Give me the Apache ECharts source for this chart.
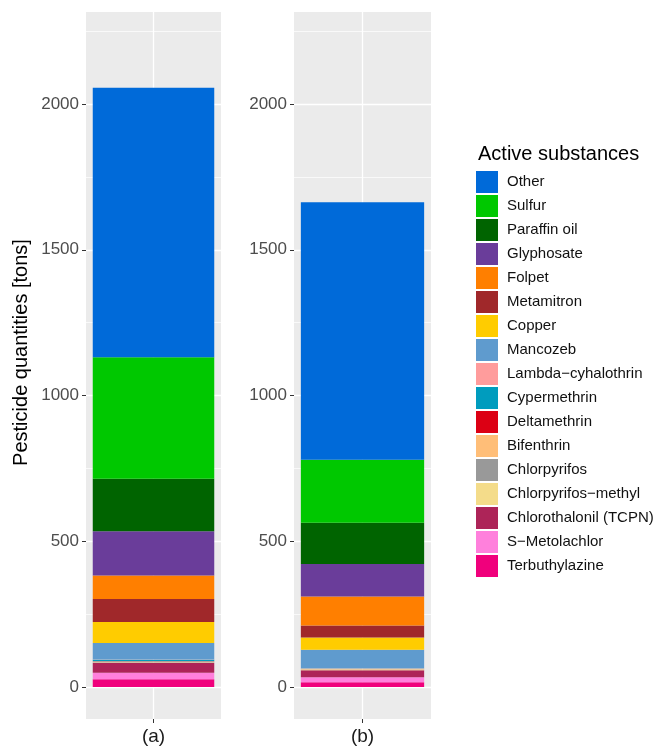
<!DOCTYPE html>
<html>
<head>
<meta charset="utf-8">
<script src="https://cdn.jsdelivr.net/npm/echarts@6/dist/echarts.min.js"></script>
<style>
  html, body { margin: 0; padding: 0; background: #ffffff; }
  #chart { width: 659px; height: 748px; }
</style>
</head>
<body>
<div id="chart"></div>
<script>
// Panels (facets) and the active substances, listed top of stack first
const panels = ['(a)', '(b)'];
const substances = [
  'Other', 'Sulfur', 'Paraffin oil', 'Glyphosate', 'Folpet', 'Metamitron',
  'Copper', 'Mancozeb', 'Lambda\u2212cyhalothrin', 'Cypermethrin', 'Deltamethrin',
  'Bifenthrin', 'Chlorpyrifos', 'Chlorpyrifos\u2212methyl', 'Chlorothalonil (TCPN)',
  'S\u2212Metolachlor', 'Terbuthylazine'
];
// Quantities in tons, same order as substances
const valuesA = [925, 417, 180, 152, 80, 79, 72, 57, 1, 5, 0.5, 2, 0.5, 2, 34, 23, 26];
const valuesB = [883, 217, 141, 112, 99, 41, 42, 64, 0.5, 1, 0.5, 2.5, 0.5, 2, 24, 17, 16];
const colors = [
  '#006AD9', '#00C800', '#006400', '#6A3D9A', '#FF7F00', '#A0282A',
  '#FFCC00', '#5F9BCE', '#FF9C9C', '#009CBE', '#DC0014',
  '#FFBE78', '#999999', '#F4DC8A', '#AD2458', '#FF80DC', '#F0007C'
];
const majorTicks = [0, 500, 1000, 1500, 2000];
const minorTicks = [250, 750, 1250, 1750, 2250];

const FONT = '"Liberation Sans", Arial, sans-serif';
const Y_MIN = -110;
const Y_MAX = 2316;
const panelValues = [valuesA, valuesB];
const gridBoxes = [
  { left: 86, width: 135, top: 12, bottom: 29 },
  { left: 294, width: 137, top: 12, bottom: 29 }
];

const chart = echarts.init(document.getElementById('chart'), null, { renderer: 'canvas' });

const grid = [], xAxis = [], yAxis = [], series = [];

panels.forEach((panel, p) => {
  grid.push(Object.assign({ show: true, backgroundColor: '#EBEBEB', borderWidth: 0, containLabel: false }, gridBoxes[p]));

  // category axis carrying the bar and its label
  xAxis.push({
    type: 'category', gridIndex: p, data: [panel], position: 'bottom',
    axisLine: { show: false, onZero: false },
    axisTick: { show: true, alignWithLabel: true, length: 4, lineStyle: { color: '#333333', width: 1 } },
    axisLabel: { color: '#1A1A1A', fontSize: 19, fontFamily: FONT, margin: 8 },
    splitLine: { show: false }
  });
  // helper value axis giving the vertical white grid line through the bar centre
  xAxis.push({
    type: 'value', gridIndex: p, min: -1, max: 1, position: 'top',
    axisLine: { show: false, onZero: false }, axisLabel: { show: false },
    axisTick: { show: false, customValues: [0] },
    splitLine: { show: true, lineStyle: { color: '#FFFFFF', width: 1.3 } }
  });

  // main value axis: major grid, ticks and labels
  yAxis.push({
    type: 'value', gridIndex: p, min: Y_MIN, max: Y_MAX, position: 'left',
    name: p === 0 ? 'Pesticide quantities [tons]' : '',
    nameLocation: 'middle', nameGap: 55,
    nameTextStyle: { color: '#000000', fontSize: 20, fontFamily: FONT, padding: [0, 0, 0, 26] },
    axisLine: { show: false, onZero: false },
    axisTick: { show: true, length: 4, customValues: majorTicks, lineStyle: { color: '#333333', width: 1 } },
    axisLabel: {
      customValues: majorTicks, color: '#4D4D4D', fontSize: 17, fontFamily: FONT, margin: 7,
      formatter: v => String(v)
    },
    splitLine: { show: true, lineStyle: { color: '#FFFFFF', width: 1.3 } }
  });
  // minor grid lines
  yAxis.push({
    type: 'value', gridIndex: p, min: Y_MIN, max: Y_MAX, position: 'right',
    axisLine: { show: false, onZero: false }, axisLabel: { show: false },
    axisTick: { show: false, customValues: minorTicks },
    splitLine: { show: true, lineStyle: { color: '#FFFFFF', width: 0.7 } }
  });

  // stack from the bottom (last substance) up to "Other"
  const vals = panelValues[p];
  for (let k = substances.length - 1; k >= 0; k--) {
    series.push({
      type: 'bar', name: substances[k],
      xAxisIndex: 2 * p, yAxisIndex: 2 * p,
      stack: 'panel' + p, barWidth: '90%',
      itemStyle: { color: colors[k] },
      emphasis: { disabled: true },
      data: [vals[k]]
    });
  }
});

chart.setOption({
  animation: false,
  backgroundColor: '#FFFFFF',
  title: {
    text: 'Active substances', left: 473, top: 139,
    textStyle: { color: '#000000', fontSize: 20, fontWeight: 'normal', fontFamily: FONT }
  },
  legend: {
    orient: 'vertical', left: 471, top: 166,
    data: substances, icon: 'rect',
    itemWidth: 22, itemHeight: 22, itemGap: 2,
    selectedMode: false,
    textStyle: { color: '#111111', fontSize: 15, fontFamily: FONT, padding: [0, 0, 0, 4] }
  },
  grid, xAxis, yAxis, series
});
</script>
</body>
</html>
